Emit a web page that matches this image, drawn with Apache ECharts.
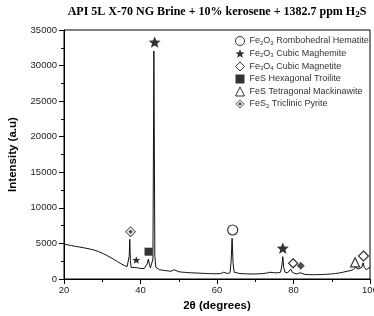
<!DOCTYPE html>
<html>
<head>
<meta charset="utf-8">
<title>API 5L X-70 XRD</title>
<script src="https://cdn.jsdelivr.net/npm/echarts@6/dist/echarts.min.js"></script>
<style>
  html, body { margin: 0; padding: 0; background: #fff; }
  #chart { width: 374px; height: 316px; }
</style>
</head>
<body>
<div id="chart"></div>
<script>
// diffractogram: [2theta, intensity]
const pattern = [
  [20, 4920], [21, 4800], [22, 4690], [23, 4590], [24, 4500], [25, 4400],
  [26, 4300], [27, 4180], [28, 4040], [29, 3860], [30, 3620], [31, 3370],
  [32, 3080], [33, 2770], [34, 2440], [35, 2120], [35.8, 1900], [36.5, 1740],
  [36.9, 1700], [37.05, 3200], [37.2, 5580], [37.35, 2600], [37.55, 1620],
  [38.0, 1560], [38.4, 1620], [38.7, 1780], [39.0, 1600], [39.6, 1520],
  [40.4, 1480], [41.0, 1480], [41.5, 1620], [41.8, 2200], [42.05, 2800],
  [42.3, 2100], [42.6, 1560], [43.0, 1580], [43.25, 2800], [43.5, 32050],
  [43.75, 3200], [44.0, 1650], [44.5, 1420], [45, 1300], [46, 1220],
  [47, 1150], [48, 1090], [48.5, 1100], [48.8, 1300], [49.1, 1080],
  [50, 1020], [51, 960], [52, 920], [53, 880], [54, 850], [55, 830],
  [56, 800], [57, 780], [58, 760], [59, 740], [60, 740], [61, 760],
  [61.4, 780], [61.7, 950], [62.0, 780], [62.8, 760], [63.4, 900],
  [63.7, 2500], [63.95, 5720], [64.2, 2200], [64.5, 950], [65, 800],
  [66, 760], [68, 720], [70, 700], [72, 760], [73.2, 860], [73.8, 950],
  [74.3, 920], [75, 880], [76, 870], [76.6, 950], [76.95, 1800],
  [77.2, 3140], [77.45, 1600], [77.8, 950], [78.5, 880], [79.0, 1000],
  [79.3, 1400], [79.6, 1000], [80.2, 800], [81, 720], [81.4, 740],
  [81.7, 880], [82.0, 720], [83, 640], [84, 620], [85, 600], [86, 610],
  [87, 630], [88, 650], [89, 680], [90, 720], [91, 770], [92, 850],
  [93, 960], [94, 1080], [95, 1200], [95.7, 1350], [96.2, 1650],
  [96.5, 1730], [96.9, 1400], [97.4, 1280], [97.9, 1650], [98.2, 2290],
  [98.5, 1650], [99.0, 1300], [99.5, 1400], [100, 1650]
];

// phase marks: [2theta, intensity where the mark sits, mark size]
const hematite = [[64.1, 6890, 10]];
const maghemite = [[43.7, 33300, 12], [38.9, 2670, 8], [77.2, 4330, 12]];
const magnetite = [[79.9, 2210, 9], [98.3, 3230, 10]];
const troilite = [[42.1, 3840, 8]];
const mackinawite = [[96.1, 2350, 9]];
const pyrite = [[37.4, 6650, 11]];
const pyriteSmall = [[81.9, 1870, 8]];

// axis ticks
const xTicks = { min: 20, max: 100, step: 20 };
const yTicks = { min: 0, max: 35000, step: 5000 };

const phaseNames = [
  'Fe2O3 Rombohedral Hematite',
  'Fe2O3 Cubic Maghemite',
  'Fe3O4 Cubic Magnetite',
  'FeS Hexagonal Troilite',
  'FeS Tetragonal Mackinawite',
  'FeS2 Triclinic Pyrite'
];
// legend text with subscripts
const phaseLabels = [
  'Fe{s|2}O{s|3} Rombohedral Hematite',
  'Fe{s|2}O{s|3} Cubic Maghemite',
  'Fe{s|3}O{s|4} Cubic Magnetite',
  'FeS Hexagonal Troilite',
  'FeS Tetragonal Mackinawite',
  'FeS{s|2} Triclinic Pyrite'
];

const starPath = 'path://M0,-10L2.6,-3.6L9.5,-3.1L4.2,1.4L5.9,8.1L0,4.4L-5.9,8.1L-4.2,1.4L-9.5,-3.1L-2.6,-3.6Z';
const pyritePath = 'path://M0,-10L10,0L0,10L-10,0Z M0,-7.6L-7.6,0L0,7.6L7.6,0Z M0,-4.2L4.2,0L0,4.2L-4.2,0Z';

const openStyle = { color: '#fff', borderColor: '#000', borderWidth: 1.2 };
const solidStyle = { color: '#000' };

function marks(list) {
  return list.map(function (m) {
    return { value: [m[0], m[1]], symbolSize: m[2] };
  });
}

function markSeries(name, symbol, style, list) {
  return {
    name: name,
    type: 'scatter',
    symbol: symbol,
    symbolSize: 9,
    symbolKeepAspect: true,
    itemStyle: style,
    z: 5,
    silent: true,
    data: marks(list)
  };
}

const chart = echarts.init(document.getElementById('chart'), null, { renderer: 'canvas' });

const pyriteMarks = marks(pyrite).concat(pyriteSmall.map(function (m) {
  return { value: [m[0], m[1]], symbolSize: m[2], symbol: 'diamond' };
}));

chart.setOption({
  animation: false,
  backgroundColor: '#fff',
  title: {
    text: 'API 5L X-70 NG Brine + 10% kerosene + 1382.7 ppm H{s|2}S',
    left: 217,
    top: 5,
    textAlign: 'center',
    padding: 0,
    textStyle: {
      fontFamily: 'Liberation Serif',
      fontWeight: 'bold',
      fontSize: 12,
      color: '#000',
      rich: {
        s: { fontFamily: 'Liberation Serif', fontWeight: 'bold', fontSize: 9, color: '#000', verticalAlign: 'bottom', padding: [5, 0, 0, 0] }
      }
    }
  },
  legend: {
    data: phaseNames,
    orient: 'vertical',
    left: 235,
    top: 36,
    padding: 0,
    itemWidth: 9,
    itemHeight: 9,
    itemGap: 3,
    selectedMode: false,
    itemStyle: { borderWidth: 1 },
    formatter: function (name) {
      return phaseLabels[phaseNames.indexOf(name)];
    },
    textStyle: {
      fontFamily: 'Liberation Sans',
      fontSize: 9,
      color: '#333',
      rich: {
        s: { fontFamily: 'Liberation Sans', fontSize: 6, color: '#333', verticalAlign: 'bottom', padding: [4, 0, 0, 0] }
      }
    }
  },
  grid: {
    left: 64,
    right: 4,
    top: 30,
    bottom: 37,
    show: true,
    borderColor: '#000',
    borderWidth: 1,
    containLabel: false,
    outerBoundsMode: 'none'
  },
  xAxis: {
    type: 'value',
    min: xTicks.min,
    max: xTicks.max,
    interval: xTicks.step,
    name: '2θ (degrees)',
    nameLocation: 'middle',
    nameGap: 20,
    nameTextStyle: { fontFamily: 'Liberation Sans', fontWeight: 'bold', fontSize: 11.5, color: '#000' },
    axisLine: { lineStyle: { color: '#000', width: 1 } },
    axisTick: { length: 5, lineStyle: { color: '#000' } },
    minorTick: { show: true, splitNumber: 2, length: 3, lineStyle: { color: '#000' } },
    splitLine: { show: false },
    axisLabel: { fontFamily: 'Liberation Sans', fontSize: 9.5, color: '#222', margin: 6 }
  },
  yAxis: {
    type: 'value',
    min: yTicks.min,
    max: yTicks.max,
    interval: yTicks.step,
    name: 'Intensity (a.u)',
    nameLocation: 'middle',
    nameGap: 45,
    nameTextStyle: { fontFamily: 'Liberation Sans', fontWeight: 'bold', fontSize: 11.5, color: '#000' },
    axisLine: { show: true, lineStyle: { color: '#000', width: 1 } },
    axisTick: { show: true, length: 5, lineStyle: { color: '#000' } },
    minorTick: { show: true, splitNumber: 2, length: 3, lineStyle: { color: '#000' } },
    splitLine: { show: false },
    axisLabel: {
      fontFamily: 'Liberation Sans', fontSize: 9.5, color: '#222', margin: 7,
      formatter: function (v) { return String(v); }
    }
  },
  series: [
    {
      name: 'XRD',
      type: 'line',
      data: pattern,
      showSymbol: false,
      silent: true,
      lineStyle: { color: '#111', width: 1 },
      z: 2
    },
    markSeries(phaseNames[0], 'circle', openStyle, hematite),
    markSeries(phaseNames[1], starPath, solidStyle, maghemite),
    markSeries(phaseNames[2], 'diamond', openStyle, magnetite),
    markSeries(phaseNames[3], 'rect', solidStyle, troilite),
    markSeries(phaseNames[4], 'triangle', openStyle, mackinawite),
    Object.assign(markSeries(phaseNames[5], pyritePath, { color: '#222' }, []), { data: pyriteMarks })
  ]
});
</script>
</body>
</html>
